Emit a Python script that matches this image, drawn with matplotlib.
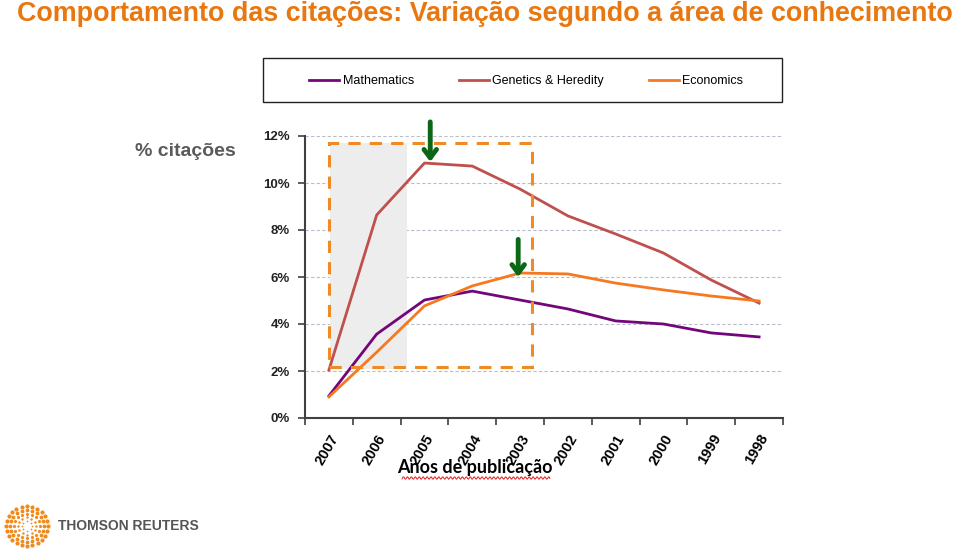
import numpy as np
import matplotlib
matplotlib.use("Agg")
from matplotlib import pyplot as plt
from matplotlib.patches import Rectangle

plt.rcParams['font.family'] = ['Liberation Sans', 'DejaVu Sans']

# Data
anos = ['2007', '2006', '2005', '2004', '2003', '2002', '2001', '2000', '1999', '1998']
mathematics = [0.94, 3.57, 5.02, 5.40, 5.02, 4.64, 4.13, 4.00, 3.62, 3.45]
genetics = [2.04, 8.64, 10.85, 10.72, 9.74, 8.60, 7.83, 7.02, 5.87, 4.89]
economics = [0.90, 2.80, 4.77, 5.62, 6.17, 6.13, 5.74, 5.45, 5.19, 4.98]
yticks = [0, 2, 4, 6, 8, 10, 12]

orange = '#E8770F'
W, H = 959, 551
fig = plt.figure(figsize=(9.59, 5.51), dpi=100)
ax = fig.add_axes([305 / W, 1 - 418 / H, 478 / W, 282 / H])

x = np.arange(len(anos))

# shaded area and dashed box
ax.add_patch(Rectangle((0.02, 2.1), 1.61, 9.6, facecolor='#EDEDED', edgecolor='none', zorder=1))
ax.add_patch(Rectangle((0.0, 2.17), 4.25, 9.53, facecolor='none', edgecolor='#F08A24',
                       lw=2.2, ls=(0, (4, 3)), zorder=4, clip_on=False))

ax.plot(x, mathematics, color='#73067A', lw=2, label='Mathematics', zorder=3)
ax.plot(x, genetics, color='#BF504D', lw=2, label='Genetics & Heredity', zorder=3)
ax.plot(x, economics, color='#F47920', lw=2, label='Economics', zorder=3)

# green arrows
for xa, y0, y1 in [(2.12, 12.6, 10.9), (3.96, 7.6, 6.0)]:
    ax.annotate('', xy=(xa, y1), xytext=(xa, y0), annotation_clip=False,
                arrowprops=dict(arrowstyle='->, head_length=0.6, head_width=0.45',
                                color='#0B6616', lw=3.5, shrinkA=0, shrinkB=0), zorder=5)

ax.set_xlim(-0.5, 9.5)
ax.set_ylim(0, 12)
ax.set_yticks(yticks)
ax.set_yticklabels([f'{v}%' for v in yticks], fontsize=9.5, fontweight='bold', color='#222222')
ax.yaxis.grid(True, ls=(0, (3, 2)), color='#B8BECC', lw=0.8)
ax.set_axisbelow(True)

ax.set_xticks(np.arange(-0.5, 10, 1))
ax.set_xticklabels([])
ax.set_xticks(x, minor=True)
ax.set_xticklabels(anos, minor=True, rotation=60, ha='right', va='top',
                   rotation_mode='anchor', fontsize=10.5, fontweight='bold')
ax.tick_params(axis='x', which='minor', length=0, pad=10)
ax.tick_params(axis='x', which='major', length=5, width=1.2, color='#404040')
ax.tick_params(axis='y', length=5, width=1.2, color='#404040', pad=6)

for s in ['top', 'right']:
    ax.spines[s].set_visible(False)
for s in ['left', 'bottom']:
    ax.spines[s].set_color('#404040')
    ax.spines[s].set_linewidth(1.5)

# legend box
fig.add_artist(Rectangle((263 / W, 1 - 102 / H), 519 / W, 44 / H, transform=fig.transFigure,
                         facecolor='white', edgecolor='#222222', lw=1.0, zorder=-1))
ax.legend(loc='center', bbox_to_anchor=(526 / W, 1 - 81 / H), bbox_transform=fig.transFigure,
          ncol=3, frameon=False, prop={'size': 9}, handlelength=2.4, handletextpad=0.25,
          columnspacing=3.6)

fig.text(17 / W, 1 - 14 / H, 'Comportamento das citações: Variação segundo a área de conhecimento',
         color=orange, fontsize=19.4, fontweight='bold', va='center', ha='left')
fig.text(185 / W, 1 - 151 / H, '% citações', fontsize=14, fontweight='bold', color='#5A5A5A',
         ha='center', va='center')

fig.text(475 / W, 1 - 468 / H, 'Anos de publicação', fontsize=13, fontweight='bold',
         ha='center', va='center', family=['Lato', 'Liberation Sans', 'DejaVu Sans'])
wx = np.linspace(402, 550, 300)
wy = 478 + 1.2 * np.sin(wx * 1.6)
fig.add_artist(plt.Line2D(wx / W, 1 - wy / H, color='#E02020', lw=0.7))

# Thomson Reuters logo
cx, cy = 27, 526
for r, n, sz in [(5, 8, 5), (9, 12, 7), (13, 16, 9), (17, 20, 11), (21, 24, 12)]:
    t = np.linspace(0, 2 * np.pi, n, endpoint=False)
    fig.add_artist(plt.Line2D((cx + r * np.cos(t)) / W, 1 - (cy + r * 0.95 * np.sin(t)) / H,
                              ls='none', marker='o', ms=sz / 4, color='#F08A1C', mec='none'))
fig.text(58 / W, 1 - 526 / H, 'THOMSON REUTERS', fontsize=10, fontweight='bold',
         color='#555555', va='center', ha='left')

fig.savefig('out.png', dpi=100)
